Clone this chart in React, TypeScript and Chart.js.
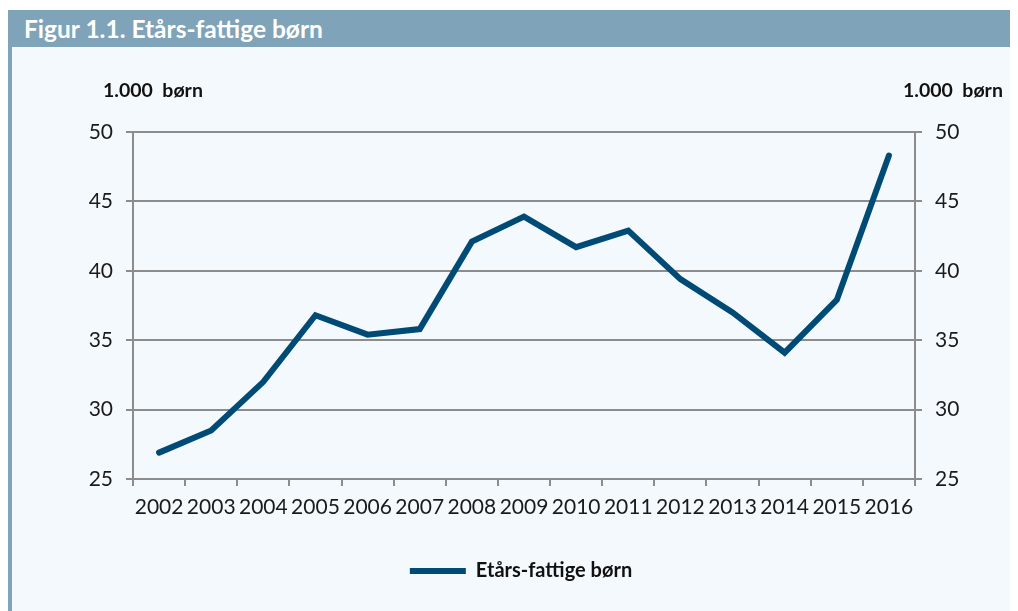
import React, { useEffect, useRef } from "react";
import { Chart, registerables } from "chart.js";

Chart.register(...registerables);

const years = ["2002","2003","2004","2005","2006","2007","2008","2009","2010","2011","2012","2013","2014","2015","2016"];
const poorChildren = [26.9, 28.5, 32.0, 36.8, 35.4, 35.8, 42.1, 43.9, 41.7, 42.9, 39.4, 37.0, 34.1, 37.9, 48.3];
const seriesLabel = "Etårs-fattige børn";
const titleText = "Figur 1.1. Etårs-fattige børn";
const axisUnit = "1.000  børn";

const LINE = "#004b76";
const GRID = "#8c8c8c";
const TEXT = "#1a1a1a";
const BAR = "#7fa3b9";
const BG = "#f4f9fd";
const FONT = "Lato, 'Noto Sans', sans-serif";

export default function App() {
  const ref = useRef<HTMLCanvasElement | null>(null);
  useEffect(() => {
    if (!ref.current) return;
    const chart = new Chart(ref.current, {
      type: "line",
      data: {
        labels: years,
        datasets: [
          {
            label: seriesLabel,
            data: poorChildren,
            borderColor: LINE,
            backgroundColor: LINE,
            borderWidth: 6,
            borderCapStyle: "round",
            borderJoinStyle: "miter",
            pointRadius: 0,
            tension: 0,
            yAxisID: "y",
          },
        ],
      },
      options: {
        animation: false,
        responsive: false,
        maintainAspectRatio: false,
        layout: { padding: { top: 85, left: 12, right: 0, bottom: 20 } },
        plugins: {
          tooltip: { enabled: false },
          legend: {
            position: "bottom",
            labels: {
              usePointStyle: true,
              pointStyle: "line",
              pointStyleWidth: 56,
              boxHeight: 6,
              color: "#111",
              font: { family: FONT, size: 20, weight: "bold" },
              padding: 10,
            },
          },
        },
        scales: {
          x: {
            offset: true,
            afterFit: (s: any) => { s.height = 72; },
            grid: {
              offset: true,
              drawOnChartArea: false,
              drawTicks: true,
              tickLength: 7,
              color: GRID,
              lineWidth: 2,
            },
            border: { color: GRID, width: 2 },
            ticks: {
              color: TEXT,
              font: { family: FONT, size: 21 },
              padding: 9,
              maxRotation: 0,
              autoSkip: false,
            },
          },
          y: {
            position: "left",
            min: 25,
            max: 50,
            afterFit: (s: any) => { s.width = 109; },
            grid: { color: GRID, lineWidth: 2, tickLength: 7, drawTicks: true },
            border: { color: GRID, width: 2 },
            ticks: {
              stepSize: 5,
              color: TEXT,
              font: { family: FONT, size: 21 },
              padding: 13,
            },
          },
          y2: {
            position: "right",
            min: 25,
            max: 50,
            afterFit: (s: any) => { s.width = 103; },
            grid: { drawOnChartArea: false, color: GRID, lineWidth: 2, tickLength: 7, drawTicks: true },
            border: { color: GRID, width: 2 },
            ticks: {
              stepSize: 5,
              color: TEXT,
              font: { family: FONT, size: 21 },
              padding: 13,
            },
          },
        },
      },
    });
    return () => chart.destroy();
  }, []);

  return (
    <div style={{ position: "relative", width: 1010, height: 603 }}>
      <div style={{ position: "absolute", left: 0, top: 2, width: 1010, height: 601, background: BG }} />
      <div
        style={{
          position: "absolute",
          left: 0,
          top: 2,
          width: 1010,
          height: 37,
          background: BAR,
          color: "#fff",
          fontFamily: FONT,
          fontWeight: "bold",
          fontSize: 24.5,
          lineHeight: "37px",
          paddingLeft: 16,
          boxSizing: "border-box",
        }}
      >
        {titleText}
      </div>
      <div style={{ position: "absolute", left: 0, top: 39, width: 4, height: 564, background: BAR }} />
      <canvas ref={ref} width={1006} height={564} style={{ position: "absolute", left: 4, top: 39, width: 1006, height: 564 }} />
      <div style={{ position: "absolute", left: 95, top: 70, fontFamily: FONT, fontWeight: "bold", fontSize: 19.5, color: "#111", whiteSpace: "pre" }}>
        {axisUnit}
      </div>
      <div style={{ position: "absolute", left: 895, top: 70, fontFamily: FONT, fontWeight: "bold", fontSize: 19.5, color: "#111", whiteSpace: "pre" }}>
        {axisUnit}
      </div>
    </div>
  );
}
